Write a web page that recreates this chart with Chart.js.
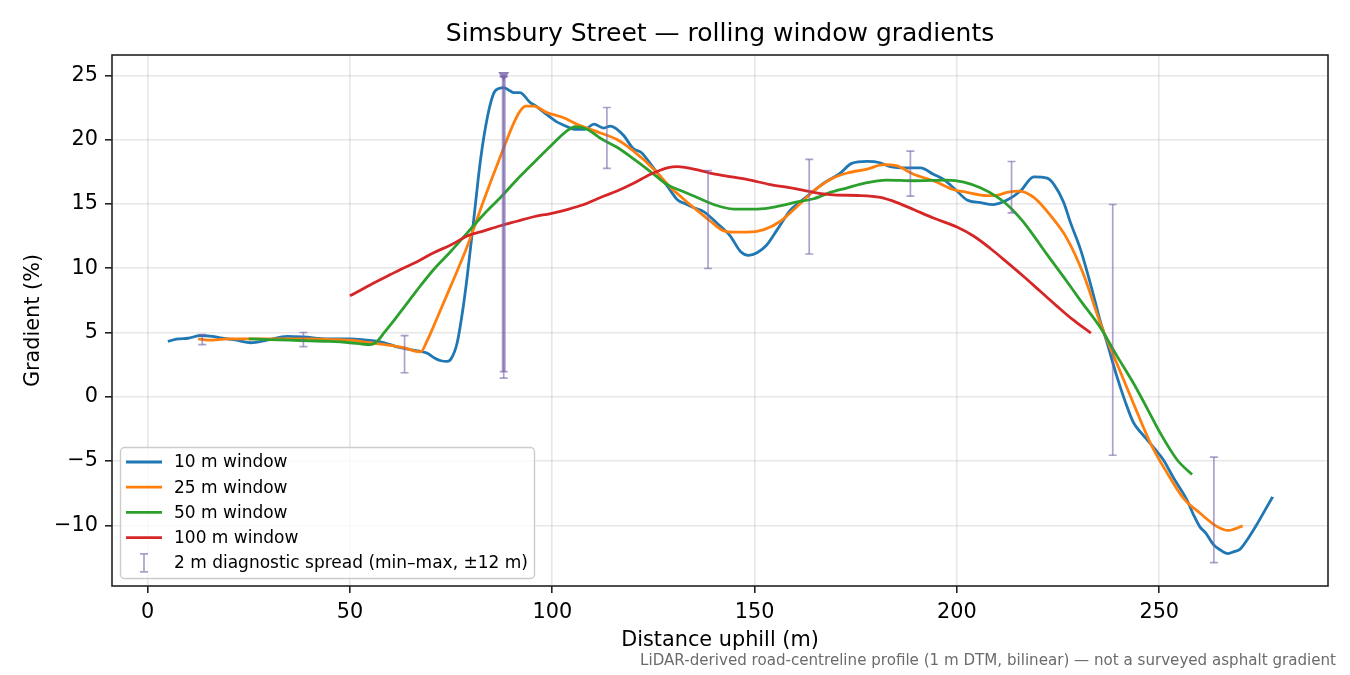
<!DOCTYPE html>
<html>
<head>
<meta charset="utf-8">
<title>Simsbury Street — rolling window gradients</title>
<script src="https://cdn.jsdelivr.net/npm/chart.js@4.4.1/dist/chart.umd.min.js"></script>
<style>
    html, body { margin: 0; padding: 0; background: #fff; }
    #wrap { width: 1350px; height: 675px; }
</style>
</head>
<body>
<div id="wrap"><canvas id="gradChart" width="1350" height="675"></canvas></div>
<script>
// distance uphill (m) / gradient (%) for each rolling window
const x10 = [5, 7.5, 10, 13, 16, 18, 22, 25.5, 29.5, 34.5, 38.5, 44.5, 50, 54, 57, 60, 62, 65, 69, 71, 72.5, 74, 75, 76.5, 78, 79, 80.6, 82.3, 84, 85.6, 87, 88, 89.5, 90.5, 92, 94.5, 96, 98, 101, 103, 105.5, 108, 110.3, 112.7, 114.4, 116, 117.7, 120, 122, 125, 128.4, 131, 133, 135, 137.4, 140.7, 144, 146.5, 148.5, 150.6, 153, 155.6, 158.8, 161, 163, 167, 171, 174, 177.8, 181, 183.5, 187.7, 191, 194.2, 196.7, 200, 202.5, 205.8, 209, 212.4, 215.7, 219, 222.3, 224, 226.4, 228, 230.5, 232, 234, 235.4, 237, 239.5, 241.5, 243.6, 245.5, 247, 249, 251, 253.5, 256.8, 258.5, 260, 261.5, 263.4, 265, 267, 268.5, 270, 272, 274, 276, 278];
const y10 = [4.3, 4.5, 4.55, 4.75, 4.7, 4.57, 4.4, 4.2, 4.4, 4.7, 4.65, 4.5, 4.5, 4.4, 4.3, 4.05, 3.85, 3.66, 3.4, 3.0, 2.8, 2.75, 2.95, 4.2, 7.0, 9.4, 13.8, 18.5, 21.8, 23.65, 24.0, 24.05, 23.8, 23.65, 23.65, 22.9, 22.6, 22.1, 21.4, 21.1, 20.8, 20.8, 21.2, 20.9, 21.05, 20.8, 20.3, 19.3, 19.0, 17.8, 16.4, 15.3, 15.0, 14.7, 14.4, 13.5, 12.5, 11.3, 11.0, 11.2, 11.8, 13.0, 14.5, 15.1, 15.6, 16.6, 17.35, 18.15, 18.3, 18.2, 17.9, 17.8, 17.8, 17.3, 16.9, 16.0, 15.3, 15.1, 14.95, 15.3, 16.0, 17.1, 17.0, 16.5, 15.1, 13.6, 11.5, 9.9, 7.6, 5.9, 4.3, 1.6, -0.3, -2.0, -2.8, -3.35, -4.1, -4.9, -6.3, -8.0, -9.2, -10.1, -10.6, -11.5, -11.9, -12.2, -12.05, -11.85, -11.0, -10.0, -8.9, -7.8];

const x25 = [12.5, 15, 20, 30, 40, 45, 50, 55, 60, 63.5, 66, 67.5, 69, 70.7, 74.9, 79, 83.1, 87.2, 90.5, 92, 93.4, 95.4, 98.7, 102.8, 106.1, 110.3, 116, 120.1, 125.1, 129.2, 132, 135, 139.1, 142.4, 145, 148.1, 152.3, 156.4, 160.5, 164.6, 168.7, 172.9, 177.8, 181.9, 185.2, 189.3, 194.2, 199.2, 202.5, 207.4, 209.5, 212.4, 215.5, 219, 223.1, 227.2, 231.3, 235.4, 239.5, 243.6, 247.8, 251.9, 256, 260.1, 264.3, 267.1, 270.6];
const y25 = [4.5, 4.4, 4.5, 4.5, 4.5, 4.45, 4.4, 4.2, 4.0, 3.8, 3.55, 3.5, 4.3, 5.5, 8.6, 11.7, 15.3, 18.7, 21.3, 22.2, 22.6, 22.6, 22.1, 21.7, 21.2, 20.7, 20.0, 19.1, 17.7, 16.3, 15.5, 14.7, 13.65, 12.9, 12.8, 12.8, 13.0, 13.65, 14.8, 16.0, 16.9, 17.4, 17.7, 18.05, 17.95, 17.3, 16.8, 16.1, 15.9, 15.65, 15.65, 15.9, 16.0, 15.5, 14.1, 12.3, 9.5, 5.75, 2.6, -0.5, -3.6, -5.9, -7.9, -9.06, -10.1, -10.4, -10.05];

const x50 = [25, 30, 35, 40, 45, 50, 53, 55, 56.7, 58.5, 60.8, 62.5, 66.6, 70.7, 74.9, 79, 83.1, 87.2, 91.3, 95.4, 99.6, 103.7, 105.7, 108.6, 111.9, 116, 120.1, 124.3, 128.4, 132, 135.8, 139.9, 144.8, 150.6, 155.6, 159.7, 164.6, 168.7, 172.9, 177, 182.7, 189.3, 197.5, 201.7, 205.8, 209.9, 212, 214, 216, 218.1, 222.3, 226.4, 230.5, 235.4, 239.5, 243.6, 247, 250.2, 254.4, 258.1];
const y50 = [4.5, 4.45, 4.4, 4.35, 4.3, 4.2, 4.1, 4.05, 4.3, 5.0, 5.9, 6.6, 8.3, 9.9, 11.3, 12.75, 14.2, 15.5, 16.9, 18.2, 19.5, 20.7, 21.0, 20.8, 20.1, 19.4, 18.5, 17.5, 16.5, 16.0, 15.5, 14.95, 14.6, 14.6, 14.8, 15.1, 15.4, 15.9, 16.25, 16.6, 16.85, 16.8, 16.85, 16.7, 16.25, 15.55, 15.05, 14.45, 13.75, 12.9, 11.05, 9.3, 7.5, 5.4, 3.2, 1.07, -0.9, -2.8, -4.9, -6.05];

const x100 = [50, 55, 60, 62.5, 66.6, 70.7, 74.9, 79, 83.1, 87.2, 91.3, 95.4, 99.6, 103.7, 107.8, 111.9, 116, 120.1, 124.3, 128.4, 131, 135, 139, 142.4, 148.1, 153.9, 159.7, 164.6, 169.5, 176.1, 181.1, 185.2, 189.3, 194.2, 200, 204.1, 208.2, 212.4, 216.5, 220.6, 224.7, 228.4, 233.1];
const y100 = [7.85, 8.7, 9.5, 9.9, 10.5, 11.2, 11.8, 12.5, 12.9, 13.3, 13.65, 14.0, 14.25, 14.56, 14.95, 15.5, 16.0, 16.6, 17.3, 17.8, 17.9, 17.7, 17.4, 17.2, 16.9, 16.5, 16.2, 15.9, 15.7, 15.65, 15.5, 15.1, 14.56, 13.9, 13.2, 12.5, 11.55, 10.45, 9.35, 8.2, 7.05, 6.05, 4.95];

// 2 m diagnostic spread (min / max)
const spreadX = [13.5, 38.5, 63.5, 88, 113.5, 138.5, 163.5, 188.5, 213.5, 238.5, 263.5];
const spreadLo = [4.05, 3.9, 1.87, 1.45, 17.76, 9.97, 11.1, 15.6, 14.3, -4.55, -12.9];
const spreadHi = [4.83, 5.0, 4.75, 24.9, 22.5, 17.6, 18.46, 19.1, 18.3, 14.95, -4.7];
// off-scale spread, marked with a triangle
const offX = [88];
const offLo = [1.95];
const offHi = [24.9];

const seriesLabels = ["10 m window", "25 m window", "50 m window", "100 m window"];
const spreadLabel = "2 m diagnostic spread (min\u2013max, \u00b112 m)";
const titleText = "Simsbury Street \u2014 rolling window gradients";
const noteText = "LiDAR-derived road-centreline profile (1 m DTM, bilinear) \u2014 not a surveyed asphalt gradient";
const xTicks = [0, 50, 100, 150, 200, 250];
const yTicks = [-10, -5, 0, 5, 10, 15, 20, 25];

const colors = ["#1f77b4", "#ff7f0e", "#2ca02c", "#d62728"];
const SPREAD = "rgba(118, 98, 168, 0.6)";
const MARKER = "rgba(118, 98, 168, 0.82)";
const FONT = "DejaVu Sans";

Chart.defaults.font.family = FONT;
Chart.defaults.color = "#000";

const toPoints = (xs, ys) => xs.map((x, i) => ({ x: x, y: ys[i] }));

function lineSet(i, xs, ys) {
    return {
        type: 'line',
        label: seriesLabels[i],
        data: toPoints(xs, ys),
        borderColor: colors[i],
        backgroundColor: colors[i],
        borderWidth: 2.8,
        pointRadius: 0,
        cubicInterpolationMode: 'monotone',
        order: 4 - i // later series on top, like the original
    };
}

// error bars + off-scale marker, drawn right after the last line
const spreadPlugin = {
    id: 'spreadBars',
    afterDatasetDraw(chart, args) {
        if (args.index !== 3) return;
        const { ctx, scales: { x, y } } = chart;
        ctx.save();
        ctx.strokeStyle = SPREAD;
        const bar = (xv, lo, hi, w) => {
            const px = x.getPixelForValue(xv);
            const p1 = y.getPixelForValue(lo), p2 = y.getPixelForValue(hi);
            ctx.lineWidth = w;
            ctx.beginPath(); ctx.moveTo(px, p1); ctx.lineTo(px, p2); ctx.stroke();
            ctx.lineWidth = 1.6;
            ctx.beginPath();
            ctx.moveTo(px - 4, p1); ctx.lineTo(px + 4, p1);
            ctx.moveTo(px - 4, p2); ctx.lineTo(px + 4, p2);
            ctx.stroke();
        };
        spreadX.forEach((xv, i) => bar(xv, spreadLo[i], spreadHi[i], 1.7));
        offX.forEach((xv, i) => bar(xv, offLo[i], offHi[i], 4));

        // downward triangle where the spread runs off the top
        ctx.fillStyle = MARKER;
        offX.forEach((xv, i) => {
            const px = x.getPixelForValue(xv), py = y.getPixelForValue(offHi[i]);
            ctx.beginPath();
            ctx.moveTo(px - 5.5, py - 4.5);
            ctx.lineTo(px + 5.5, py - 4.5);
            ctx.lineTo(px, py + 4.5);
            ctx.closePath();
            ctx.fill();
        });
        ctx.restore();
    }
};

// title over the axes, frame, legend box and footnote
const decorPlugin = {
    id: 'decor',
    afterDraw(chart) {
        const { ctx, chartArea: a } = chart;
        ctx.save();
        ctx.strokeStyle = "#222";
        ctx.lineWidth = 1.6;
        ctx.strokeRect(a.left, a.top, a.right - a.left, a.bottom - a.top);

        ctx.fillStyle = "#000";
        ctx.font = "25px '" + FONT + "'";
        ctx.textAlign = "center";
        ctx.textBaseline = "middle";
        ctx.fillText(titleText, (a.left + a.right) / 2, 34);

        // legend
        const lx = a.left + 8, ly = a.top + 392;
        ctx.beginPath();
        ctx.roundRect(lx + 0.5, ly + 0.5, 414, 131, 4);
        ctx.fillStyle = "rgba(255,255,255,0.8)";
        ctx.fill();
        ctx.strokeStyle = "#cccccc";
        ctx.lineWidth = 1.4;
        ctx.stroke();

        ctx.font = "17px '" + FONT + "'";
        ctx.textAlign = "left";
        const rowY = i => ly + 15 + i * 25.2;
        seriesLabels.forEach((lab, i) => {
            ctx.strokeStyle = colors[i];
            ctx.lineWidth = 2.8;
            ctx.beginPath();
            ctx.moveTo(lx + 6, rowY(i)); ctx.lineTo(lx + 42, rowY(i));
            ctx.stroke();
            ctx.fillStyle = "#000";
            ctx.fillText(lab, lx + 54, rowY(i) + 1);
        });
        const ey = rowY(4), ex = lx + 24;
        ctx.strokeStyle = SPREAD;
        ctx.lineWidth = 1.7;
        ctx.beginPath();
        ctx.moveTo(ex, ey - 9); ctx.lineTo(ex, ey + 9);
        ctx.moveTo(ex - 4, ey - 9); ctx.lineTo(ex + 4, ey - 9);
        ctx.moveTo(ex - 4, ey + 9); ctx.lineTo(ex + 4, ey + 9);
        ctx.stroke();
        ctx.fillStyle = "#000";
        ctx.fillText(spreadLabel, lx + 54, ey + 1);

        // footnote
        ctx.font = "15.1px '" + FONT + "'";
        ctx.fillStyle = "#6b6b6b";
        ctx.textAlign = "right";
        ctx.textBaseline = "alphabetic";
        ctx.fillText(noteText, 1336, 665);
        ctx.restore();
    }
};

const gridOpts = {
    color: "rgba(176,176,176,0.3)",
    lineWidth: 1.6,
    tickColor: "#222",
    tickLength: 7,
    tickWidth: 1.6
};

window.onload = () => {
    const ctx = document.getElementById("gradChart").getContext("2d");
    new Chart(ctx, {
        data: {
            datasets: [
                lineSet(0, x10, y10),
                lineSet(1, x25, y25),
                lineSet(2, x50, y50),
                lineSet(3, x100, y100)
            ]
        },
        options: {
            responsive: false,
            animation: false,
            layout: { padding: { left: 0, right: 22, top: 55, bottom: 0 } },
            scales: {
                x: {
                    type: 'linear',
                    min: -8.8,
                    max: 291.7,
                    afterBuildTicks: s => { s.ticks = xTicks.map(v => ({ value: v })); },
                    afterFit: s => { s.height = 89; },
                    ticks: { padding: 7, font: { size: 20.8 }, color: "#000" },
                    grid: gridOpts,
                    border: { display: false },
                    title: { display: true, text: "Distance uphill (m)", font: { size: 20.8 }, padding: { top: 0, bottom: 22 } }
                },
                y: {
                    type: 'linear',
                    min: -14.72,
                    max: 26.58,
                    afterBuildTicks: s => { s.ticks = yTicks.map(v => ({ value: v })); },
                    afterFit: s => { s.width = 112; },
                    ticks: {
                        padding: 7,
                        font: { size: 20.8 },
                        color: "#000",
                        callback: v => v < 0 ? "\u2212" + Math.abs(v) : String(v)
                    },
                    grid: gridOpts,
                    border: { display: false },
                    title: { display: true, text: "Gradient (%)", font: { size: 20.8 }, padding: { top: 21, bottom: 0 } }
                }
            },
            plugins: {
                legend: { display: false },
                tooltip: { enabled: false },
                title: { display: false }
            }
        },
        plugins: [spreadPlugin, decorPlugin]
    });
};
</script>
</body>
</html>
